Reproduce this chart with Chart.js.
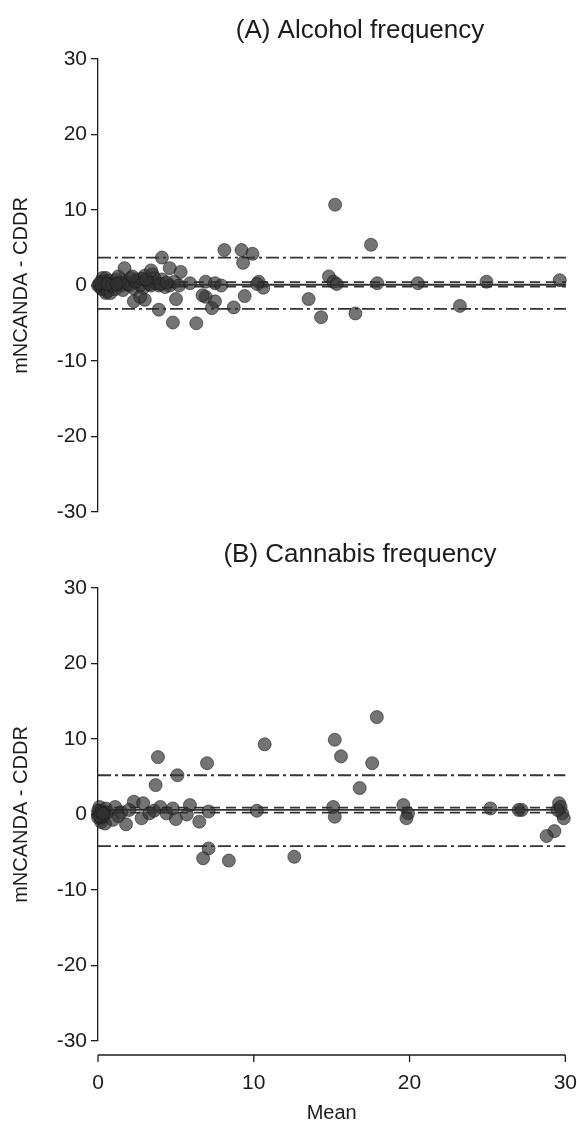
<!DOCTYPE html>
<html>
<head>
<meta charset="utf-8">
<script src="https://cdn.jsdelivr.net/npm/chart.js@4.4.1/dist/chart.umd.min.js"></script>
<style>
  html, body { margin: 0; padding: 0; background: #fff; }
  #wrap { position: relative; width: 577px; height: 1128px; }
  .panel { position: absolute; left: 0; width: 577px; }
</style>
</head>
<body>
<div id="wrap">
  <div class="panel" style="top:0;height:530px"><canvas id="chartA" width="577" height="530"></canvas></div>
  <div class="panel" style="top:530px;height:598px"><canvas id="chartB" width="577" height="598"></canvas></div>
</div>
<script>
const FONT = "'Liberation Sans', Arial, sans-serif";
const INK = '#1c1c1c';

const yTicks = [30, 20, 10, 0, -10, -20, -30];
const xTicks = [0, 10, 20, 30];

// (A) alcohol frequency: mean of both reports vs difference
const alcoholMean = [
  0, 0.1, 0.2, 0.2, 0.3, 0.3, 0.4, 0.5, 0.5, 0.6, 0.7, 0.8, 0.8, 1.0, 1.1, 1.2, 1.3, 1.5, 1.6, 1.8,
  2.0, 2.1, 2.3, 2.5, 2.7, 2.9, 3.0, 3.2, 3.4, 3.5, 3.7, 3.9, 4.1, 4.3, 4.6, 4.9, 5.2,
  0.9, 1.4, 1.9, 2.4, 2.8, 3.3, 3.6, 4.0, 4.4, 0.1, 0.6, 1.2, 2.2, 3.1,
  1.7, 4.1, 4.6, 5.3, 3.4, 2.3, 3.0, 2.7, 3.9, 5.0, 4.8, 6.3, 6.9, 7.5, 7.3, 8.7, 9.4, 6.7,
  8.1, 9.2, 9.9, 9.3, 5.9, 6.9, 7.5, 7.9, 10.3, 10.6, 10.2,
  13.5, 14.3, 14.8, 15.1, 15.3, 15.2, 16.5, 17.5, 17.9, 20.5, 23.2, 24.9, 29.6
];
const alcoholDiff = [
  0, 0, 0.5, -0.4, -0.5, 1.0, 0.5, 1.0, -1.0, -0.8, 0.6, 0, -1.0, 0.3, -0.5, 0.8, 1.2, 0, -0.6, 0.5,
  0, 1.0, -0.4, 0.8, 0, -0.3, 1.3, 0.5, 0, 1.5, 0.3, 0, 0.8, -0.2, 0, 0.5, 0,
  0, 0.4, 0.2, 0.5, 0.9, 0.2, 1.0, 0.2, 0.4, 0.3, 0.2, 0.2, 1.2, 0.8,
  2.3, 3.7, 2.3, 1.8, 2.0, -2.1, -1.9, -1.5, -3.2, -1.8, -4.9, -5.0, -1.5, -2.1, -3.0, -2.9, -1.4, -1.3,
  4.7, 4.7, 4.2, 3.0, 0.3, 0.5, 0.3, 0, 0.5, -0.3, 0.2,
  -1.8, -4.2, 1.2, 0.5, 0.2, 10.7, -3.7, 5.4, 0.3, 0.3, -2.7, 0.5, 0.7
];
const alcoholLimits = [3.7, -3.1];   // dot-dash
const alcoholBias = [0.45, -0.15];   // dashed
const alcoholZero = [0.1];           // solid

// (B) cannabis frequency
const cannabisMean = [
  0, 0.1, 0.2, 0.1, 0.3, 0.2, 0, 0.4, 0.5, 0.45, 0.96, 0.3, 0.6, 0, 0.1, 0.2, 0.35,
  1.1, 1.5, 1.8, 2.3, 2.9, 2.8, 3.3, 4.0, 4.4, 4.8, 5.0, 5.7, 5.9, 6.5, 7.1, 10.2, 2.0, 1.3, 3.6,
  15.1, 15.2, 3.85, 7.0, 5.1, 3.7, 7.1, 6.75, 8.4, 12.6, 10.7, 15.2, 15.6, 17.9, 17.6, 16.8,
  19.6, 19.9, 19.8, 25.2, 27.2, 27.0, 29.6, 29.8, 29.9, 29.5, 29.7, 29.3, 28.8
];
const cannabisDiff = [
  0, 0.5, -0.5, 1.0, 0.2, -1.0, 0.5, 0, 0.8, -1.2, -0.7, -0.3, 0.3, -0.4, -0.2, 0.3, 0.1,
  1.0, 0.3, -1.3, 1.7, 1.5, -0.5, 0.15, 1.0, 0.15, 0.8, -0.6, 0, 1.25, -0.95, 0.4, 0.5, 0.6, -0.2, 0.5,
  1.0, -0.3, 7.6, 6.8, 5.2, 3.9, -4.5, -5.8, -6.1, -5.6, 9.3, 9.9, 7.7, 12.9, 6.8, 3.5,
  1.25, 0.15, -0.5, 0.8, 0.6, 0.6, 1.5, 0.15, -0.5, 0.6, 1.0, -2.2, -2.85
];
const cannabisLimits = [5.2, -4.2];
const cannabisBias = [0.9, 0.25];
const cannabisZero = [0.6];

function pairs(xs, ys) {
  return xs.map((x, i) => ({ x: x, y: ys[i] }));
}

function hLines(values, dash) {
  return values.map(v => ({
    type: 'line',
    data: [{ x: xTicks[0], y: v }, { x: xTicks[xTicks.length - 1], y: v }],
    borderColor: '#333',
    borderWidth: 1.8,
    borderDash: dash,
    pointRadius: 0,
    showLine: true,
    fill: false,
    order: 2,
    clip: 10
  }));
}

// title text and the detached R-style x axis
const rStyle = {
  id: 'rStyle',
  afterDraw(chart, args, opts) {
    const { ctx, chartArea, scales } = chart;
    ctx.save();
    if (opts.title) {
      ctx.fillStyle = INK;
      ctx.font = '26px ' + FONT;
      ctx.textAlign = 'center';
      ctx.textBaseline = 'middle';
      ctx.fillText(opts.title, opts.titleX, opts.titleY);
    }
    if (opts.xAxis) {
      const x = scales.x;
      const y = chartArea.bottom + 14;
      ctx.strokeStyle = INK;
      ctx.lineWidth = 1.3;
      ctx.beginPath();
      ctx.moveTo(x.getPixelForValue(xTicks[0]), y);
      ctx.lineTo(x.getPixelForValue(xTicks[xTicks.length - 1]), y);
      xTicks.forEach(t => {
        const px = x.getPixelForValue(t);
        ctx.moveTo(px, y);
        ctx.lineTo(px, y + 7);
      });
      ctx.stroke();
    }
    ctx.restore();
  }
};

function makePanel(canvasId, title, xs, ys, limits, bias, zero, showX) {
  return new Chart(document.getElementById(canvasId), {
    type: 'scatter',
    data: {
      datasets: [
        {
          data: pairs(xs, ys),
          pointRadius: 6.5,
          pointHoverRadius: 6.5,
          backgroundColor: 'rgba(50,50,50,0.68)',
          borderColor: 'rgba(20,20,20,0.55)',
          borderWidth: 1,
          order: 1,
          clip: 10
        },
        ...hLines(limits, [13, 4, 3, 4]),
        ...hLines(bias, [10, 6]),
        ...hLines(zero, [])
      ]
    },
    options: {
      responsive: false,
      animation: false,
      layout: { padding: showX ? { top: 58, right: 0, bottom: 0, left: 0 } : { top: 59, right: 11, bottom: 18, left: 0 } },
      plugins: {
        legend: { display: false },
        tooltip: { enabled: false },
        rStyle: { title: title, titleX: 360, titleY: showX ? 25 : 31, xAxis: showX }
      },
      scales: {
        x: {
          type: 'linear',
          min: 0,
          max: 30,
          display: showX,
          afterBuildTicks: s => { s.ticks = xTicks.map(v => ({ value: v })); },
          afterFit: s => { if (showX) s.height = 87; },
          grid: { display: true, drawOnChartArea: false, drawTicks: true, tickLength: 30, color: 'rgba(0,0,0,0)' },
          border: { display: false },
          ticks: { color: INK, font: { family: FONT, size: 21 }, padding: 0, maxRotation: 0 },
          title: { display: true, text: 'Mean', color: INK, font: { family: FONT, size: 20 }, padding: { top: 4, bottom: 3 } }
        },
        y: {
          type: 'linear',
          min: -30,
          max: 30,
          afterBuildTicks: s => { s.ticks = yTicks.map(v => ({ value: v })); },
          afterFit: s => { s.width = 98; },
          grid: { drawOnChartArea: false, drawTicks: true, tickLength: 7, color: INK, lineWidth: 1.3 },
          border: { display: true, color: INK, width: 1.3 },
          ticks: { color: INK, font: { family: FONT, size: 21 }, padding: 4 },
          title: { display: true, text: 'mNCANDA - CDDR', color: INK, font: { family: FONT, size: 20 }, padding: { top: 9, bottom: 0 } }
        }
      }
    },
    plugins: [rStyle]
  });
}

makePanel('chartA', '(A) Alcohol frequency', alcoholMean, alcoholDiff, alcoholLimits, alcoholBias, alcoholZero, false);
makePanel('chartB', '(B) Cannabis frequency', cannabisMean, cannabisDiff, cannabisLimits, cannabisBias, cannabisZero, true);
</script>
</body>
</html>
